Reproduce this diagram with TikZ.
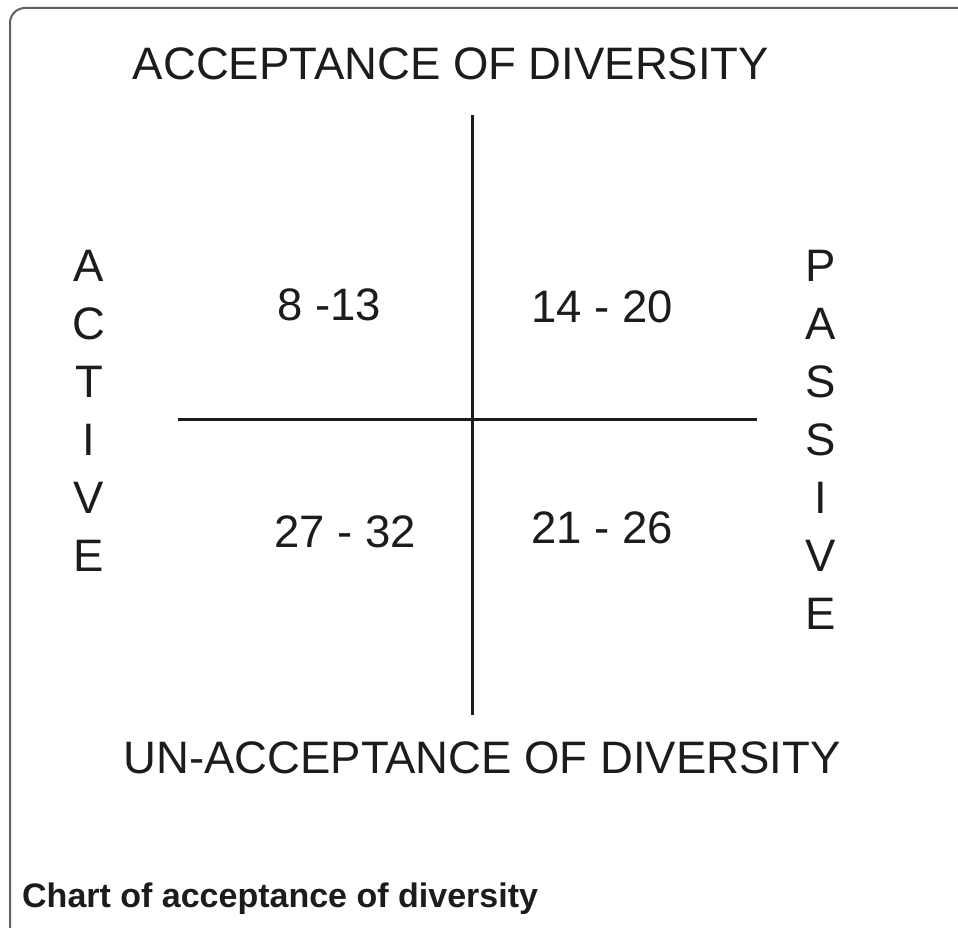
\documentclass[tikz,border=0pt]{standalone}
\usepackage{fontspec}
\setmainfont{Liberation Sans}
\usepackage{tikz}
\usetikzlibrary{positioning}
\definecolor{ink}{RGB}{28,28,28}
\definecolor{framegray}{RGB}{96,96,96}
\tikzset{
  axislabel/.style={inner sep=0pt, anchor=base, text=ink,
    font=\fontsize{45.5}{58}\selectfont},
  rangelabel/.style={inner sep=0pt, anchor=base, text=ink,
    font=\fontsize{45.5}{58}\selectfont},
  sidechar/.style={inner sep=0pt, anchor=base, text=ink,
    font=\fontsize{45.5}{58}\selectfont},
  captionlabel/.style={inner sep=0pt, anchor=base west, text=ink,
    font=\fontsize{34}{40}\selectfont\bfseries},
  axisline/.style={draw=ink, line width=3pt},
  frameline/.style={draw=framegray, line width=2pt, rounded corners=15pt},
}
\begin{document}
\begin{tikzpicture}[x=1pt, y=-1pt]
  \useasboundingbox (0,0) rectangle (958,928);
  \fill[white] (0,0) rectangle (958,928);
  \draw[frameline] (10,940) |- (970,8);
  \def\cx{472} \def\cy{419}
  \coordinate (vtop) at (\cx,115);
  \coordinate (vbot) at (\cx,715);
  \coordinate (hleft) at (178,\cy);
  \coordinate (hright) at (757,\cy);
  \draw[axisline] (vtop) -- (vbot);
  \draw[axisline] (hleft) -- (hright);
  \node[axislabel] (accept) at (451,80) {ACCEPTANCE OF DIVERSITY};
  \node[axislabel] (unaccept) at (482,773) {UN-ACCEPTANCE OF DIVERSITY};
  \node[rangelabel] (q1) at (329,320) {8 -13};
  \node[rangelabel] (q2) at (602,322) {14 - 20};
  \node[rangelabel] (q3) at (345,547) {27 - 32};
  \node[rangelabel] (q4) at (602,543) {21 - 26};
  \foreach \l [count=\i] in {A,C,T,I,V,E}
    \node[sidechar] (act\i) at (89,{223+58*\i}) {\l};
  \foreach \l [count=\i] in {P,A,S,S,I,V,E}
    \node[sidechar] (pas\i) at (821,{223+58*\i}) {\l};
  \node[captionlabel] (caption) at (22,907) {Chart of acceptance of diversity};
\end{tikzpicture}
\end{document}
